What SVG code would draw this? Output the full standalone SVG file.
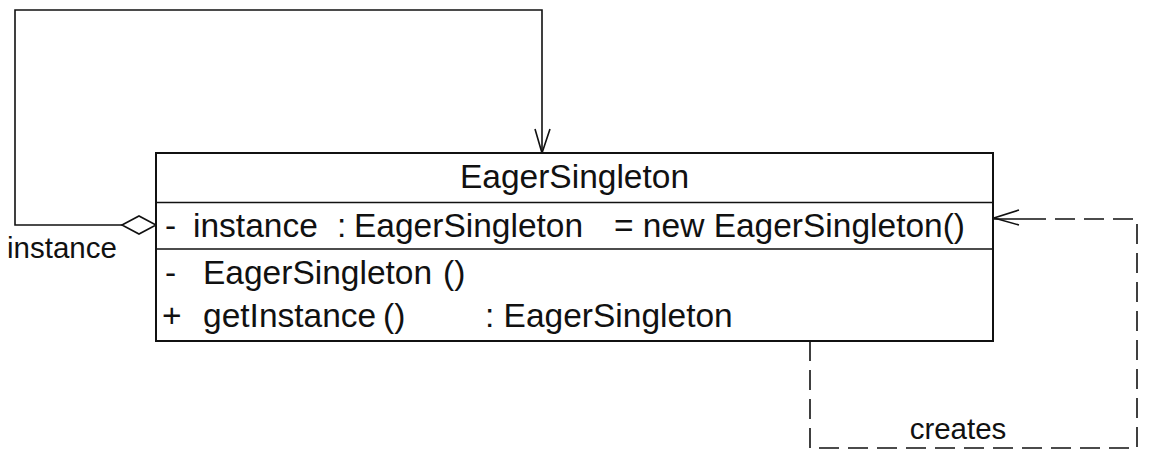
<svg xmlns="http://www.w3.org/2000/svg" width="1150" height="458" viewBox="0 0 1150 458">
<style>
.t{font-family:"Liberation Sans",Arial,sans-serif;font-size:33.5px;fill:#111}
.l{font-family:"Liberation Sans",Arial,sans-serif;font-size:29.5px;fill:#111}
.box{fill:#fff;stroke:#111;stroke-width:2}
.ln{fill:none;stroke:#111;stroke-width:1.6}
.dash{fill:none;stroke:#111;stroke-width:1.6;stroke-dasharray:20 9}
</style>
<rect width="1150" height="458" fill="#fff"/>
<g id="connectors">
<g id="self-association">
<polyline class="ln" points="122,225 15,225 15,10 542,10 542,153"/>
<polyline class="ln" points="535,129 542,153 550,129"/>
<polygon points="122,225 139,216 156,225 139,234" fill="#fff" stroke="#111" stroke-width="1.6"/>
<text class="l" x="7" y="258">instance</text>
</g>
<g id="creates-dependency">
<polyline class="dash" points="810,341 810,448 1137,448 1137,219 1030,219"/>
<line class="ln" x1="1030" y1="219" x2="994" y2="219"/>
<polyline class="ln" points="1019,210 994,218 1019,225"/>
<text class="l" x="958" y="439" text-anchor="middle">creates</text>
</g>
</g>
<g id="EagerSingleton">
<rect class="box" x="156" y="153" width="837" height="188"/>
<line class="ln" x1="156" y1="202.5" x2="993" y2="202.5" stroke-width="2"/>
<line class="ln" x1="156" y1="249" x2="993" y2="249" stroke-width="2"/>
<text class="t" x="574.5" y="188" text-anchor="middle">EagerSingleton</text>
<text class="t" y="237"><tspan x="165">-</tspan><tspan x="193">instance</tspan><tspan x="337">:</tspan><tspan x="354">EagerSingleton</tspan><tspan x="614">= new EagerSingleton()</tspan></text>
<text class="t" y="284"><tspan x="165">-</tspan><tspan x="203">EagerSingleton</tspan><tspan x="443">()</tspan></text>
<text class="t" y="327"><tspan x="162">+</tspan><tspan x="203">getInstance</tspan><tspan x="383">()</tspan><tspan x="485">: EagerSingleton</tspan></text>
</g>
</svg>
